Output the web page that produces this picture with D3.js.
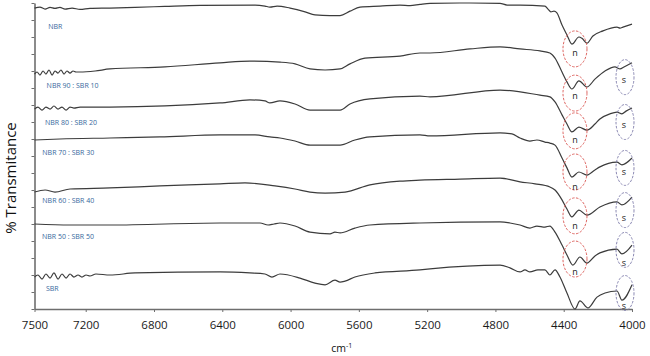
<!DOCTYPE html>
<html>
<head>
<meta charset="utf-8">
<script src="https://cdn.jsdelivr.net/npm/d3@7"></script>
<style>
    body { margin: 0; background: #fff; }
    text { font-family: "Open Sans", "Liberation Sans", sans-serif; }
</style>
</head>
<body>
<svg id="svg0"></svg>
<script>
// wavenumber ticks (cm-1), the axis runs high -> low
let wnTicks = [7500, 7200, 6800, 6400, 6000, 5600, 5200, 4800, 4400, 4000];

let seriesNames = ['NBR', 'NBR 90 : SBR 10', 'NBR 80 : SBR 20', 'NBR 70 : SBR 30', 'NBR 60 : SBR 40', 'NBR 50 : SBR 50', 'SBR'];

// spectra as [wavenumber, % transmittance (offset)]
let nbr = [[7500,88.5],[7468,88.8],[7438,88.2],[7409,88.7],[7380,88.4],[7351,88.7],[7321,88.2],[7280,88.5],[7233,88.1],[7175,88.4],[7058,88.5],[6911,88.7],[6736,89.0],[6530,89.3],[6208,89.4],[6150,89.1],[6121,88.8],[6079,89.1],[6003,88.5],[5915,87.4],[5857,86.5],[5769,86.3],[5710,86.3],[5652,87.6],[5593,88.8],[5476,89.1],[5359,89.4],[5300,89.2],[5242,89.6],[5183,89.9],[4949,90.0],[4773,89.9],[4732,89.4],[4656,89.4],[4510,89.1],[4492,88.2],[4475,87.4],[4457,87.6],[4440,87.1],[4410,83.5],[4381,80.6],[4352,77.9],[4311,80.0],[4293,79.6],[4264,78.2],[4229,80.3],[4170,81.8],[4088,82.9],[4070,82.6],[4053,82.9],[4000,83.8]];

let nbr90 = [[7500,69.1],[7485,69.7],[7468,68.8],[7450,70.0],[7433,69.1],[7415,70.3],[7397,68.8],[7380,70.0],[7362,69.4],[7345,70.3],[7327,69.1],[7310,70.0],[7292,69.4],[7274,70.0],[7257,69.7],[7233,69.7],[7145,70.0],[7058,70.6],[6736,71.2],[6413,72.4],[6238,72.9],[6062,72.6],[5974,72.1],[5886,70.6],[5798,70.3],[5710,70.6],[5652,72.1],[5564,73.8],[5359,74.4],[5242,75.3],[5183,75.3],[4949,76.5],[4773,77.1],[4656,76.5],[4539,75.9],[4481,75.3],[4451,73.8],[4410,69.7],[4381,66.8],[4352,64.7],[4311,67.1],[4264,65.3],[4217,67.6],[4158,70.0],[4100,71.2],[4070,70.6],[4047,71.2],[4000,72.4]];

let nbr80 = [[7500,58.8],[7480,59.4],[7456,58.5],[7433,59.4],[7409,58.8],[7386,59.7],[7362,58.8],[7339,59.4],[7315,58.5],[7292,59.4],[7269,59.1],[7233,59.4],[7058,59.4],[6413,60.6],[6238,61.5],[6150,61.2],[6121,60.6],[6062,61.2],[5974,60.3],[5886,58.5],[5710,58.5],[5652,60.3],[5535,61.8],[5242,62.6],[5183,62.4],[4773,64.4],[4539,62.9],[4481,62.4],[4451,60.9],[4410,57.1],[4381,54.4],[4352,52.1],[4311,53.5],[4264,52.6],[4217,54.4],[4188,55.9],[4129,57.4],[4088,57.9],[4059,57.4],[4035,58.2],[4000,59.1]];

let nbr70 = [[7500,49.7],[7351,50.0],[7058,50.3],[6765,50.6],[6413,51.2],[6208,51.2],[6121,50.6],[6062,50.3],[5974,49.4],[5886,48.2],[5710,48.2],[5623,49.7],[5535,50.6],[5242,51.2],[5183,50.9],[4773,51.8],[4703,51.5],[4656,50.3],[4598,49.4],[4557,49.7],[4510,49.1],[4481,48.8],[4451,48.2],[4410,44.4],[4381,41.5],[4352,38.8],[4311,40.3],[4264,39.4],[4217,40.9],[4188,41.8],[4088,43.2],[4059,42.4],[4000,44.4]];

let nbr60 = [[7500,34.4],[7438,35.0],[7380,34.4],[7292,35.3],[7058,35.6],[6765,36.2],[6413,36.8],[6267,37.1],[6091,36.2],[5974,35.3],[5886,34.4],[5798,34.1],[5681,34.4],[5535,36.5],[5359,37.6],[5242,37.9],[5007,38.2],[4773,38.5],[4656,37.4],[4568,36.8],[4481,35.9],[4451,35.0],[4410,32.1],[4381,29.4],[4352,27.1],[4311,29.1],[4264,27.6],[4188,30.0],[4088,31.5],[4059,30.6],[4000,32.9]];

let nbr50 = [[7500,25.0],[7292,24.7],[7058,24.7],[6413,25.3],[6179,25.3],[6132,24.7],[6097,25.0],[6062,25.3],[5974,24.4],[5886,22.6],[5769,22.1],[5740,22.6],[5710,22.4],[5623,23.8],[5535,24.7],[5242,25.3],[4773,25.6],[4715,25.3],[4656,24.7],[4598,23.8],[4557,24.4],[4510,24.1],[4481,24.4],[4451,22.6],[4410,18.8],[4381,15.9],[4346,12.9],[4305,15.3],[4264,13.5],[4217,15.6],[4188,16.5],[4088,17.6],[4059,16.2],[4000,18.8]];

let sbr = [[7500,9.4],[7480,10.0],[7456,8.8],[7433,10.3],[7409,9.1],[7386,10.6],[7362,8.8],[7339,10.3],[7315,9.1],[7292,10.3],[7269,9.4],[7245,10.0],[7222,9.4],[7198,10.0],[7175,9.7],[7140,10.3],[7058,10.0],[6911,10.6],[6413,10.9],[6238,10.6],[6150,10.3],[6109,9.4],[6062,10.3],[5945,9.1],[5857,7.6],[5798,7.1],[5740,8.5],[5710,7.9],[5681,8.2],[5623,9.4],[5506,10.6],[5242,11.5],[5183,11.8],[4773,12.9],[4715,12.1],[4656,10.9],[4627,11.5],[4598,10.9],[4551,11.5],[4510,11.5],[4481,10.0],[4451,11.5],[4422,9.4],[4381,4.7],[4334,0.0],[4305,2.4],[4258,0.3],[4205,3.5],[4158,4.7],[4088,5.3],[4059,2.6],[4000,7.1]];

let spectra = [nbr, nbr90, nbr80, nbr70, nbr60, nbr50, sbr];

// where each series name sits, in data units
let nameAnchors = [[7420,82.5],[7429,65.1],[7438,54.0],[7454,45.4],[7454,31.3],[7456,20.7],[7433,5.4]];

// annotation rings: "n" (nitrile band) and "s" (styrene band), centre in data units
let nRings = [[4334,76.5],[4334,63.5],[4334,52.4],[4334,40.3],[4334,27.4],[4334,14.7]];
let nLetters = [[4334,74.4],[4334,61.8],[4334,48.8],[4334,35.0],[4334,23.5],[4334,10.0]];
let sRings = [[4041,68.2],[4041,55.0],[4041,41.5],[4041,29.1],[4041,17.4],[4041,4.7]];
let sLetters = [[4047,66.5],[4047,53.2],[4047,39.4],[4047,25.9],[4047,12.6],[4047,0.0]];

let W = 650, H = 356;
let margin = {top: 3, right: 18, bottom: 47, left: 34.5};
let width = W - margin.left - margin.right;
let height = H - margin.top - margin.bottom;

let svg = d3.select('#svg0').attr('width', W).attr('height', H);
svg.append('rect').attr('width', W).attr('height', H).style('fill', '#fff');

let g = svg.append('g').attr('transform', 'translate(' + margin.left + ', ' + margin.top + ')');

// scales
let xScale = d3.scaleLinear().domain([7500, 4000]).range([0, width]);
let yScale = d3.scaleLinear().domain([0, 90]).range([height, 0]);

// axes
let xAxis = g.append('g').attr('transform', 'translate(0, ' + height + ')')
    .call(d3.axisBottom(xScale).tickValues(wnTicks).tickFormat(d3.format('d')).tickSize(3).tickSizeOuter(0).tickPadding(9));
let yAxis = g.append('g')
    .call(d3.axisLeft(yScale).ticks(18).tickFormat('').tickSize(3).tickSizeOuter(0));
[xAxis, yAxis].forEach(ax=>{
    ax.select('.domain').style('stroke', '#6e6e6e').style('stroke-width', '1.6px');
    ax.selectAll('.tick line').style('stroke', '#6e6e6e').style('stroke-width', '1px');
});
xAxis.selectAll('.tick text').style('font-size', '11.5px').style('fill', '#1a1a1a');

// spectra
let line = d3.line().x(d=>{return xScale(d[0]);}).y(d=>{return yScale(d[1]);}).curve(d3.curveMonotoneX);
g.selectAll('.spectrum').data(spectra).enter().append('path')
    .attr('class', 'spectrum')
    .attr('fill', 'none')
    .style('stroke', '#3c3c3c').style('stroke-width', '1.2px')
    .attr('d', line);

// series names
g.selectAll('.sname').data(seriesNames).enter().append('text')
    .attr('class', 'sname')
    .attr('x', (d, i)=>{return xScale(nameAnchors[i][0]);})
    .attr('y', (d, i)=>{return yScale(nameAnchors[i][1]);})
    .text(d=>{return d;})
    .style('font-size', '7px').style('fill', '#36679c');

// dashed rings
g.selectAll('.nring').data(nRings).enter().append('ellipse')
    .attr('class', 'nring')
    .attr('cx', d=>{return xScale(d[0]);}).attr('cy', d=>{return yScale(d[1]);})
    .attr('rx', 12).attr('ry', 18)
    .style('fill', 'none').style('stroke', '#d9534f').style('stroke-width', '0.9px').style('stroke-dasharray', '2.5,1.5');
g.selectAll('.sring').data(sRings).enter().append('ellipse')
    .attr('class', 'sring')
    .attr('cx', d=>{return xScale(d[0]);}).attr('cy', d=>{return yScale(d[1]);})
    .attr('rx', 9).attr('ry', 17.5)
    .style('fill', 'none').style('stroke', '#7a78a8').style('stroke-width', '0.9px').style('stroke-dasharray', '2.5,1.5');

g.selectAll('.nletter').data(nLetters).enter().append('text')
    .attr('class', 'nletter')
    .attr('x', d=>{return xScale(d[0]);}).attr('y', d=>{return yScale(d[1]);})
    .text('n').style('font-size', '9px').style('text-anchor', 'middle').style('fill', '#222');
g.selectAll('.sletter').data(sLetters).enter().append('text')
    .attr('class', 'sletter')
    .attr('x', d=>{return xScale(d[0]);}).attr('y', d=>{return yScale(d[1]);})
    .text('s').style('font-size', '9px').style('text-anchor', 'middle').style('fill', '#222');

// axis titles
svg.append('text')
    .attr('transform', 'translate(16, 178) rotate(-90)')
    .text('% Transmitance')
    .style('font-size', '15px').style('text-anchor', 'middle').style('fill', '#111');

let xTitle = svg.append('text')
    .attr('x', margin.left + xScale(5700))
    .attr('y', 352)
    .style('font-size', '10.5px').style('text-anchor', 'middle').style('fill', '#111');
xTitle.append('tspan').text('cm');
xTitle.append('tspan').text('-1').attr('dy', -4).style('font-size', '7px');
</script>
</body>
</html>
